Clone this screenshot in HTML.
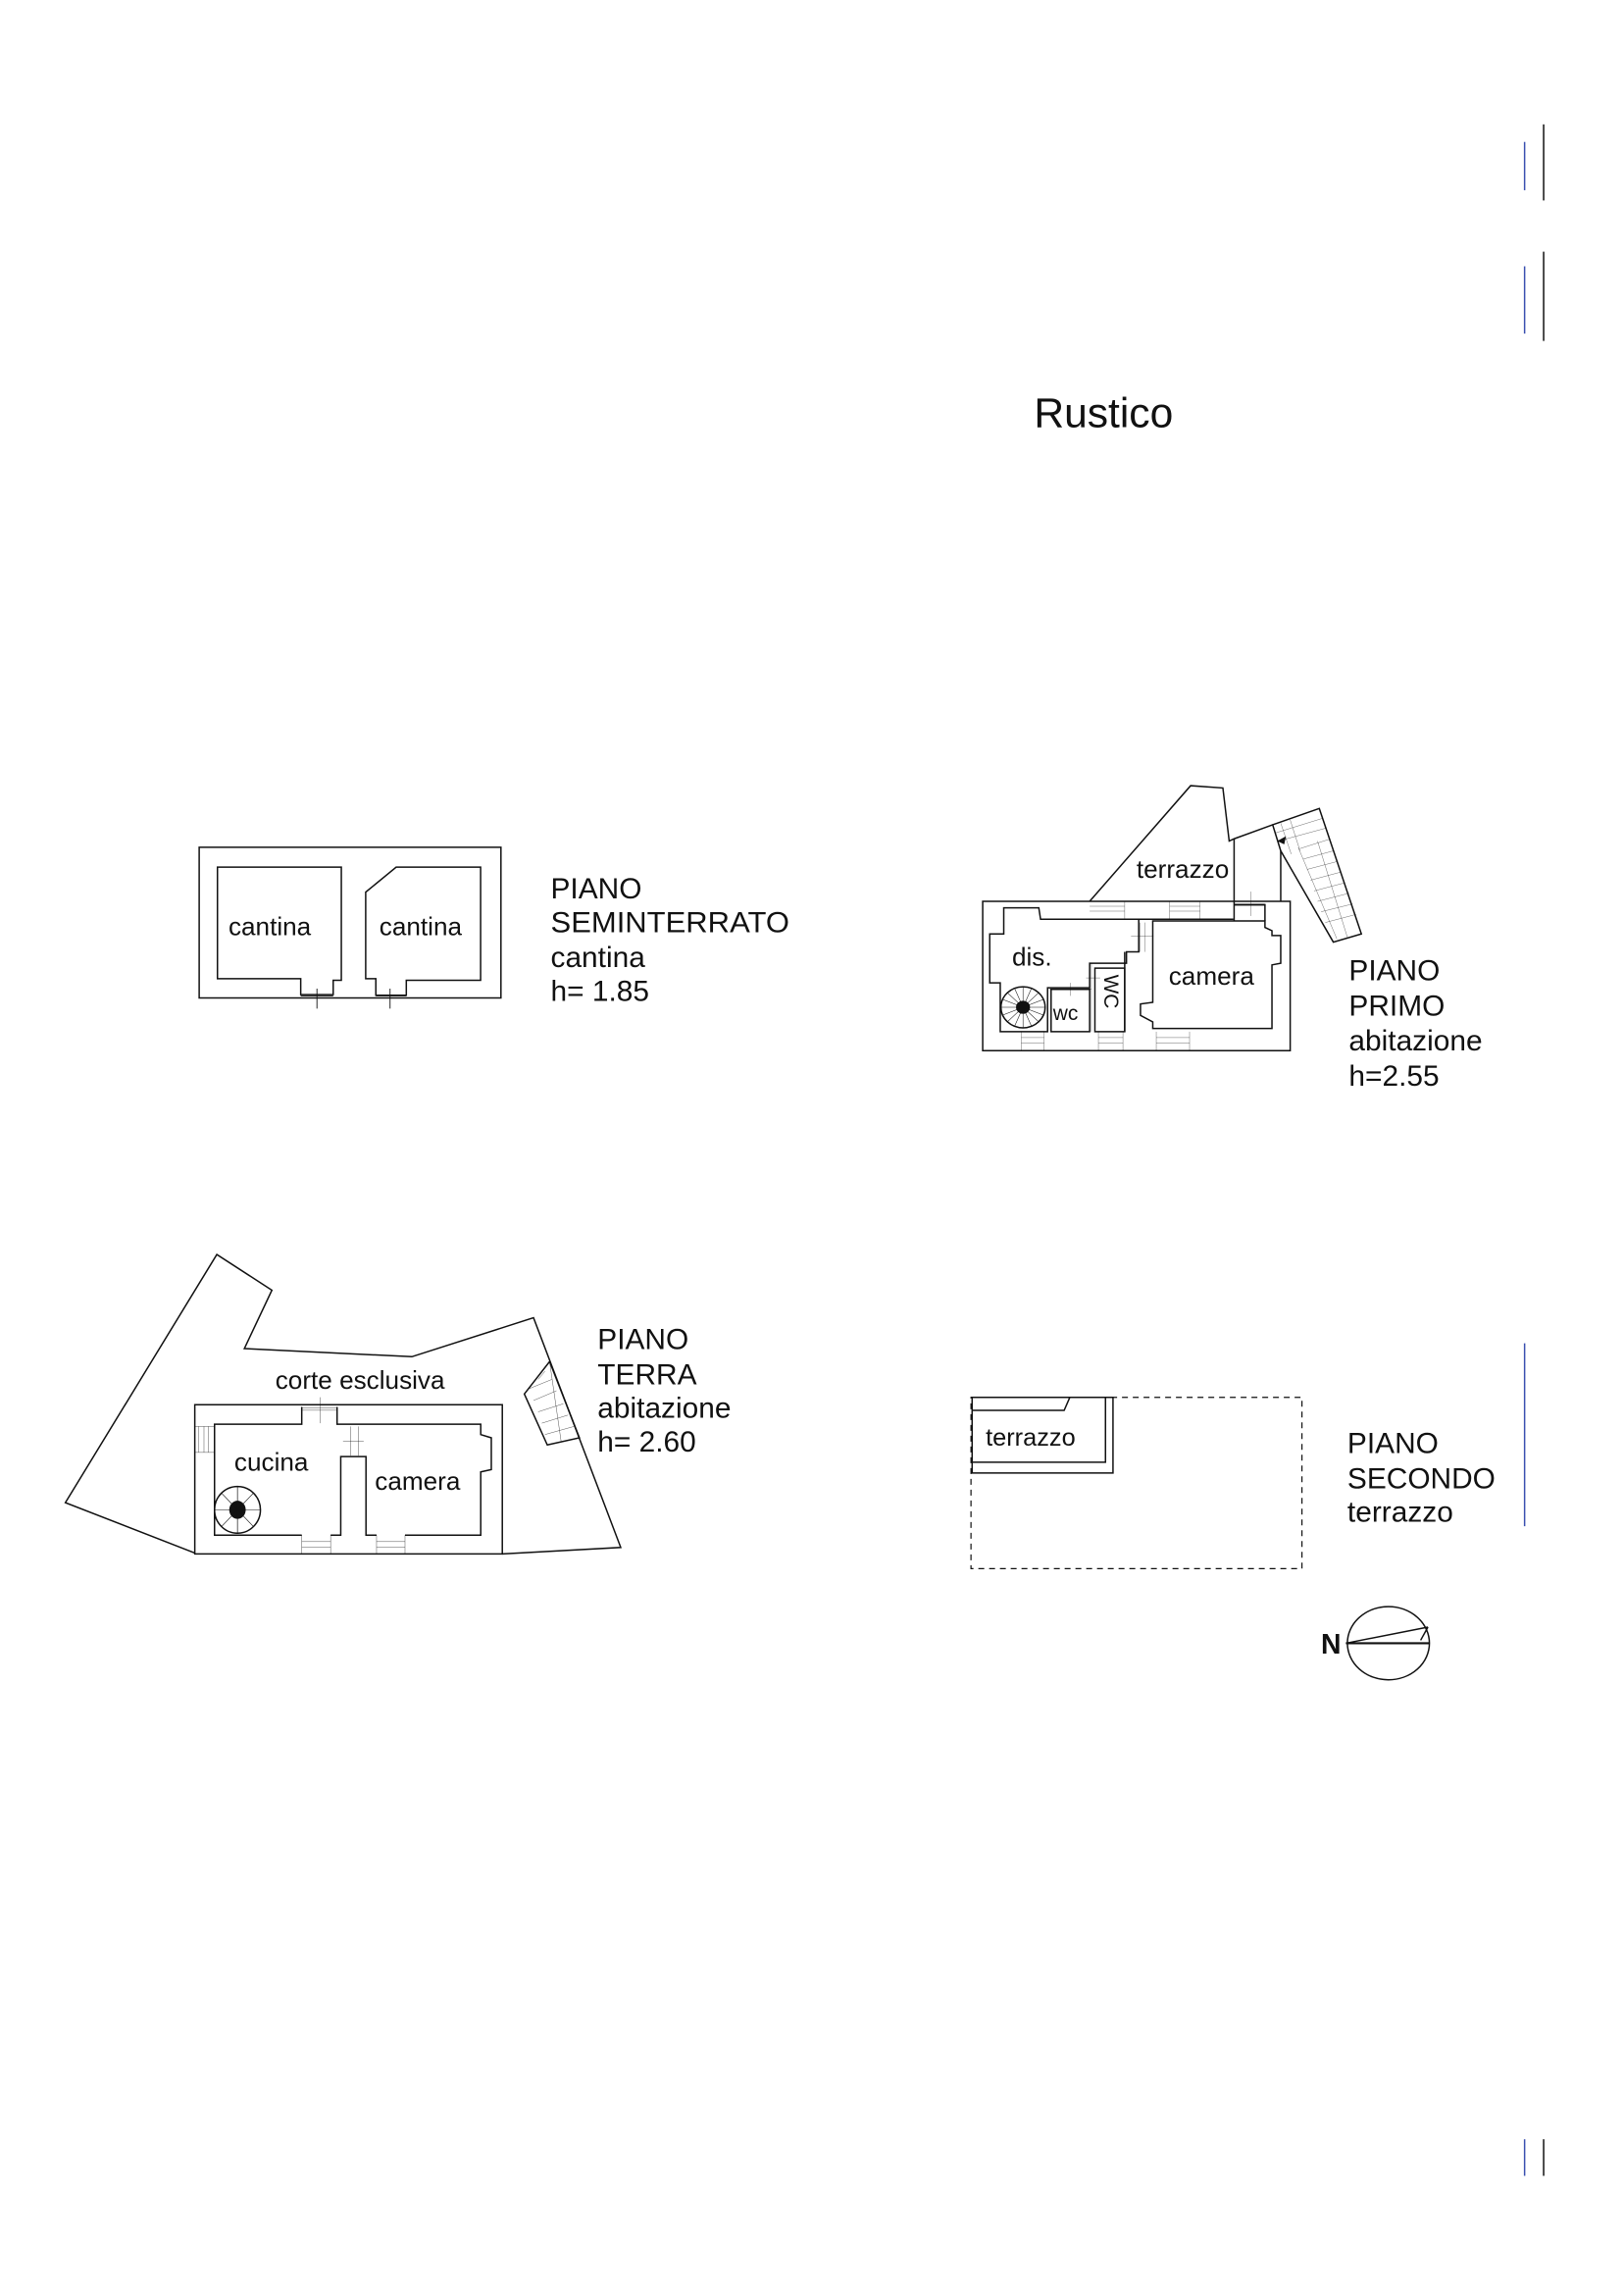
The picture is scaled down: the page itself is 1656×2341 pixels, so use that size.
<!DOCTYPE html>
<html><head><meta charset="utf-8"><style>
html,body{margin:0;padding:0;background:#fff;}
svg{display:block;}
text{font-family:"Liberation Sans",sans-serif;fill:#111;}
.w{fill:none;stroke:#111;stroke-width:1.5;vector-effect:non-scaling-stroke;stroke-linejoin:miter;}
.t{fill:none;stroke:#111;stroke-width:0.9;vector-effect:non-scaling-stroke;}
</style></head><body>
<svg width="1656" height="2341" viewBox="0 0 1100 1555" preserveAspectRatio="none" xmlns="http://www.w3.org/2000/svg">
<rect width="1100" height="1555" fill="#fff"/>
<g transform="scale(0.992,0.991)">
<!-- margin marks -->
<line x1="1041" y1="97" x2="1041" y2="130" stroke="#3a4fb0" stroke-width="1"/>
<line x1="1054" y1="85" x2="1054" y2="137" stroke="#111" stroke-width="1"/>
<line x1="1041" y1="182" x2="1041" y2="228" stroke="#3a4fb0" stroke-width="1"/>
<line x1="1054" y1="172" x2="1054" y2="233" stroke="#111" stroke-width="1"/>
<line x1="1041" y1="918" x2="1041" y2="1043" stroke="#3a4fb0" stroke-width="1"/>
<line x1="1041" y1="1462" x2="1041" y2="1487" stroke="#3a4fb0" stroke-width="1"/>
<line x1="1054" y1="1462" x2="1054" y2="1487" stroke="#111" stroke-width="1"/>

<text x="706" y="292" font-size="28.5">Rustico</text>

<!-- PIANO SEMINTERRATO -->
<g transform="translate(120.75,568.77) scale(0.2773,0.2274)">
<rect x="55" y="45" width="743" height="453" class="w"/>
<polygon class="w" points="100,105 405,105 405,445 385,445 385,488 305,488 305,440 100,440"/>
<polygon class="w" points="465,180 540,105 748,105 748,445 565,445 565,490 490,490 490,440 465,440"/>
<line class="t" x1="345" y1="470" x2="345" y2="530"/><line class="t" x1="305" y1="492" x2="385" y2="492"/>
<line class="t" x1="525" y1="470" x2="525" y2="530"/><line class="t" x1="490" y1="492" x2="565" y2="492"/>
</g>
<text x="156" y="639" font-size="17.5">cantina</text>
<text x="259" y="639" font-size="17.5">cantina</text>
<text x="376" y="614" font-size="20">PIANO</text>
<text x="376" y="637" font-size="20" textLength="163" lengthAdjust="spacingAndGlyphs">SEMINTERRATO</text>
<text x="376" y="661" font-size="20">cantina</text>
<text x="376" y="684" font-size="20">h= 1.85</text>

<!-- PIANO PRIMO -->
<g transform="translate(662.62,529.15) scale(0.2394,0.2227)">
<rect x="35" y="390" width="877" height="458" class="w"/>
<polyline class="w" points="340,390 628,35 720,42 738,205 752,198 862,155"/>
<line class="w" x1="752" y1="198" x2="752" y2="450"/>
<line class="w" x1="885" y1="235" x2="885" y2="390"/>
<polygon class="w" points="862,155 995,105 1115,490 1035,515 885,235"/>
<g class="t">
<line x1="870" y1="180" x2="1005" y2="135"/><line x1="878" y1="205" x2="1015" y2="165"/>
<line x1="940" y1="228" x2="1022" y2="200"/><line x1="950" y1="260" x2="1035" y2="235"/>
<line x1="960" y1="292" x2="1045" y2="268"/><line x1="970" y1="325" x2="1057" y2="300"/>
<line x1="980" y1="358" x2="1068" y2="333"/><line x1="990" y1="390" x2="1080" y2="365"/>
<line x1="1000" y1="422" x2="1090" y2="398"/><line x1="1012" y1="455" x2="1100" y2="430"/>
<line x1="885" y1="150" x2="915" y2="245"/><line x1="912" y1="140" x2="940" y2="235"/>
<line x1="935" y1="225" x2="1045" y2="505"/><line x1="990" y1="205" x2="1075" y2="500"/>
</g>
<polygon points="875,205 900,190 895,215" fill="#111"/>
<polyline class="w" points="200,445 750,445"/>
<polygon class="w" points="95,410 195,410 200,445 480,445 480,545 445,545 445,580 340,580 340,655 220,655 220,790 85,790 85,640 55,640 55,490 95,490"/>
<polyline class="w" points="752,400 840,400 840,450"/>
<polyline class="w" points="520,545 520,450 840,450 840,470 860,480 860,495 885,495 885,580 860,585 860,780 520,780 520,760 485,740 485,705 520,700 520,545"/>
<rect class="w" x="230" y="660" width="110" height="130"/>
<rect class="w" x="355" y="595" width="85" height="195"/>
<line class="w" x1="440" y1="545" x2="440" y2="790"/>
<g class="t">
<line x1="340" y1="405" x2="440" y2="405"/><line x1="340" y1="420" x2="440" y2="420"/><line x1="440" y1="390" x2="440" y2="445"/>
<line x1="568" y1="405" x2="655" y2="405"/><line x1="568" y1="420" x2="655" y2="420"/><line x1="568" y1="390" x2="568" y2="445"/><line x1="655" y1="390" x2="655" y2="445"/>
<line x1="145" y1="808" x2="210" y2="808"/><line x1="145" y1="825" x2="210" y2="825"/><line x1="145" y1="790" x2="145" y2="848"/><line x1="210" y1="790" x2="210" y2="848"/>
<line x1="365" y1="808" x2="435" y2="808"/><line x1="365" y1="825" x2="435" y2="825"/><line x1="365" y1="790" x2="365" y2="848"/><line x1="435" y1="790" x2="435" y2="848"/>
<line x1="530" y1="808" x2="625" y2="808"/><line x1="530" y1="825" x2="625" y2="825"/><line x1="530" y1="790" x2="530" y2="848"/><line x1="625" y1="790" x2="625" y2="848"/>
<line x1="800" y1="360" x2="800" y2="435"/><line x1="752" y1="398" x2="840" y2="398"/><line x1="752" y1="404" x2="840" y2="404"/>
<line x1="483" y1="455" x2="483" y2="545"/><line x1="497" y1="455" x2="497" y2="545"/><line x1="458" y1="497" x2="522" y2="497"/>
<line x1="285" y1="640" x2="285" y2="680"/><line x1="225" y1="660" x2="345" y2="660"/>
<line x1="345" y1="580" x2="345" y2="790"/><line x1="330" y1="625" x2="370" y2="625"/>
</g>
<circle cx="150" cy="715" r="63" class="w"/>
<circle cx="150" cy="715" r="20" fill="#111"/>
<g class="w">
<line x1="150" y1="652" x2="150" y2="778"/><line x1="87" y1="715" x2="213" y2="715"/>
<line x1="105" y1="670" x2="195" y2="760"/><line x1="195" y1="670" x2="105" y2="760"/>
<line x1="126" y1="657" x2="174" y2="773"/><line x1="174" y1="657" x2="126" y2="773"/>
<line x1="92" y1="691" x2="208" y2="739"/><line x1="92" y1="739" x2="208" y2="691"/>
</g>
</g>
<text x="776" y="600" font-size="17.5">terrazzo</text>
<text x="691" y="660" font-size="17.5">dis.</text>
<text x="798" y="673" font-size="17.5">camera</text>
<text x="719" y="697" font-size="14">wc</text>
<text x="0" y="0" font-size="14" transform="translate(754,666) rotate(90)">WC</text>
<text x="921" y="670" font-size="20">PIANO</text>
<text x="921" y="694" font-size="20">PRIMO</text>
<text x="921" y="718" font-size="20">abitazione</text>
<text x="921" y="742" font-size="20">h=2.55</text>

<!-- PIANO TERRA -->
<g transform="translate(32.09,851.81) scale(0.3134,0.2217)">
<polyline class="w" points="322,945 40,790 370,25 490,135 430,315 795,340 1060,220 1250,928 992,948"/>
<rect class="w" x="322" y="488" width="670" height="460"/>
<polyline class="w" points="555,495 555,548 365,548 365,890 555,890"/>
<polyline class="w" points="632,495 632,548 945,548 945,580 968,590 968,688 945,695 945,890 780,890"/>
<polyline class="w" points="718,890 695,890 695,648 640,648 640,890 618,890"/>
<g class="t">
<line x1="330" y1="555" x2="330" y2="635"/><line x1="342" y1="555" x2="342" y2="635"/><line x1="352" y1="555" x2="352" y2="635"/><line x1="322" y1="635" x2="365" y2="635"/><line x1="322" y1="555" x2="365" y2="555"/>
<line x1="555" y1="890" x2="555" y2="948"/><line x1="618" y1="890" x2="618" y2="948"/><line x1="555" y1="910" x2="618" y2="910"/><line x1="555" y1="928" x2="618" y2="928"/>
<line x1="718" y1="890" x2="718" y2="948"/><line x1="780" y1="890" x2="780" y2="948"/><line x1="718" y1="910" x2="780" y2="910"/><line x1="718" y1="928" x2="780" y2="928"/>
<line x1="595" y1="465" x2="595" y2="545"/><line x1="555" y1="498" x2="632" y2="498"/><line x1="555" y1="505" x2="632" y2="505"/>
<line x1="662" y1="555" x2="662" y2="645"/><line x1="678" y1="555" x2="678" y2="645"/><line x1="645" y1="600" x2="690" y2="600"/>
</g>
<polygon class="w" points="1040,455 1095,355 1160,590 1090,612"/>
<g class="t">
<line x1="1048" y1="440" x2="1100" y2="410"/><line x1="1060" y1="475" x2="1110" y2="445"/>
<line x1="1070" y1="510" x2="1125" y2="485"/><line x1="1078" y1="545" x2="1135" y2="520"/>
<line x1="1085" y1="580" x2="1148" y2="555"/><line x1="1070" y1="410" x2="1085" y2="385"/>
<line x1="1095" y1="355" x2="1120" y2="600"/>
</g>
<ellipse cx="415" cy="812" rx="50" ry="72" class="w"/>
<ellipse cx="415" cy="812" rx="18" ry="28" fill="#111"/>
<g class="w">
<line x1="415" y1="740" x2="415" y2="884"/><line x1="365" y1="812" x2="465" y2="812"/>
<line x1="380" y1="760" x2="450" y2="864"/><line x1="450" y1="760" x2="380" y2="864"/>
</g>
</g>
<text x="188" y="949" font-size="17.5">corte esclusiva</text>
<text x="160" y="1005" font-size="17.5">cucina</text>
<text x="256" y="1018" font-size="17.5">camera</text>
<text x="408" y="922" font-size="20">PIANO</text>
<text x="408" y="946" font-size="20">TERRA</text>
<text x="408" y="969" font-size="20">abitazione</text>
<text x="408" y="992" font-size="20">h= 2.60</text>

<!-- PIANO SECONDO -->
<g transform="translate(656.07,945.03) scale(0.2565,0.2216)">
<rect x="27" y="45" width="881" height="528" fill="none" stroke="#111" stroke-width="1.2" stroke-dasharray="6 5" vector-effect="non-scaling-stroke"/>
<polyline class="w" points="27,45 405,45 405,278 27,278"/>
<polyline class="w" points="27,245 385,245 385,45"/>
<polyline class="w" points="290,45 275,85 30,85"/>
<line class="w" x1="30" y1="45" x2="30" y2="278"/>
</g>
<text x="673" y="988" font-size="17">terrazzo</text>
<text x="920" y="993" font-size="20">PIANO</text>
<text x="920" y="1017" font-size="20">SECONDO</text>
<text x="920" y="1040" font-size="20">terrazzo</text>

<!-- North -->
<ellipse cx="948" cy="1123" rx="28" ry="25" fill="none" stroke="#111" stroke-width="1"/>
<line x1="919" y1="1123" x2="976" y2="1123" stroke="#111" stroke-width="1.4"/>
<line x1="919" y1="1123" x2="975" y2="1112" stroke="#111" stroke-width="1"/>
<line x1="970" y1="1121" x2="975" y2="1112" stroke="#111" stroke-width="1"/>
<text x="902" y="1130" font-size="19" font-weight="bold">N</text>
</g>
</svg>
</body></html>
